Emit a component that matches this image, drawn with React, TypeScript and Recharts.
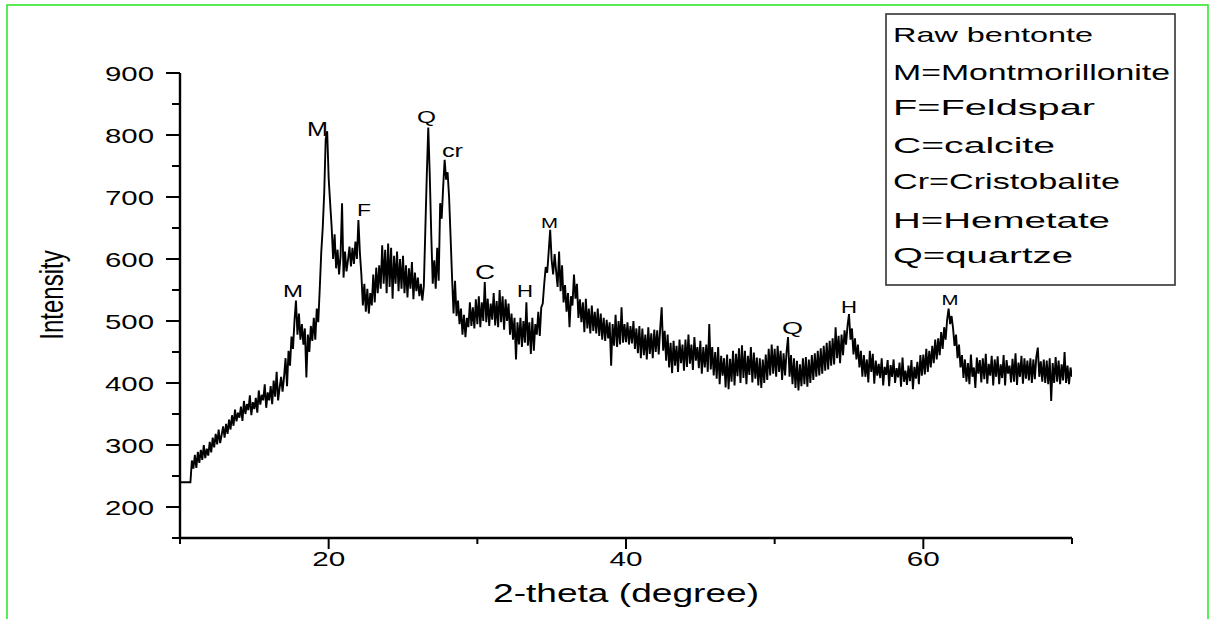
import React from 'react';
import { ComposedChart, Line, XAxis, YAxis, ReferenceDot } from 'recharts';

// XRD scan: 2-theta from 10 to 70 degrees, step 0.1
const twoThetaStart = 10;
const twoThetaStep = 0.1;
const intensity: number[] = [
  240,240,240,240,240,240,240,240,275,262,
  284,263,289,271,292,276,300,279,294,283,
  305,288,312,296,318,301,325,303,316,330,
  312,334,318,341,325,348,331,357,338,352,
  344,362,339,371,350,366,356,380,348,369,
  358,376,352,388,365,381,372,398,360,385,
  372,395,366,404,378,418,372,392,410,386,
  410,440,395,452,428,475,455,500,533,478,
  512,470,495,462,488,409,478,450,492,468,
  505,470,520,498,552,610,650,706,793,806,
  730,690,652,600,640,585,615,575,605,690,
  570,612,580,598,620,588,618,592,628,600,
  663,610,575,525,560,515,552,512,545,525,
  575,530,586,545,590,552,622,560,615,545,
  625,555,618,536,605,560,612,548,600,552,
  605,545,590,538,585,552,595,535,578,548,
  570,540,560,533,556,645,735,812,735,640,
  560,598,552,618,565,690,665,715,760,728,
  740,700,636,570,512,565,508,533,495,520,
  478,510,474,505,490,530,492,522,488,535,
  495,540,490,530,500,563,498,536,492,528,
  502,545,493,532,490,550,498,540,486,535,
  500,528,478,512,470,505,438,498,462,505,
  458,500,465,530,460,498,447,505,452,495,
  478,515,476,522,528,560,587,578,612,647,
  598,575,608,580,555,612,548,590,530,558,
  515,545,490,540,525,575,536,560,505,535,
  498,530,482,536,488,520,480,525,484,515,
  480,520,476,512,470,505,468,502,472,498,
  428,495,460,510,458,500,462,522,465,495,
  466,498,462,492,464,500,455,488,448,492,
  440,488,445,478,438,490,447,480,440,486,
  450,485,446,488,522,452,484,436,478,425,
  465,416,468,428,460,418,470,432,462,420,
  470,426,478,431,462,421,474,436,458,424,
  468,415,458,425,462,418,495,422,458,412,
  450,407,458,398,444,412,440,393,446,390,
  439,402,452,396,447,411,456,400,461,408,
  452,398,444,413,458,401,449,407,441,396,
  440,392,438,400,446,405,455,412,462,415,
  455,410,460,418,452,405,448,412,450,474,
  410,445,398,440,392,436,388,430,395,440,
  398,442,394,438,400,445,405,448,410,452,
  412,456,415,460,420,465,422,468,428,472,
  430,490,440,476,432,478,445,485,462,492,
  511,470,488,446,472,438,462,425,452,410,
  445,410,438,401,452,418,447,399,436,412,
  431,408,440,396,426,413,437,395,429,410,
  438,400,424,409,433,394,441,402,420,397,
  428,403,437,390,426,407,434,398,445,412,
  446,414,455,418,452,425,460,432,470,438,
  472,445,482,455,490,470,502,520,495,508,
  488,460,478,440,462,425,445,408,438,402,
  432,398,446,410,425,392,441,415,437,401,
  440,406,447,399,431,412,444,396,438,410,
  443,398,430,408,445,396,437,415,428,401,
  439,402,448,397,433,410,444,399,440,407,
  436,404,440,400,438,406,442,457,410,435,
  402,438,400,436,398,440,371,432,400,442,
  402,436,398,430,404,450,400,428,398,425,
  410,
];

const xTicks = [10, 20, 30, 40, 50, 60, 70];
const xTickLabels = [20, 40, 60];
const yTicks = [150, 200, 250, 300, 350, 400, 450, 500, 550, 600, 650, 700, 750, 800, 850, 900];
const yTickLabels = [200, 300, 400, 500, 600, 700, 800, 900];

// peak annotations (letter, 2-theta, intensity at text baseline)
const peakLetters = ['M', 'M', 'F', 'Q', 'cr', 'C', 'H', 'M', 'Q', 'H', 'M'];
const peakTheta = [17.6, 19.25, 22.38, 26.58, 28.33, 30.52, 33.21, 34.85, 51.2, 55.0, 61.79];
const peakLabelIntensity = [539, 799, 670, 820, 765, 568, 539, 650, 479, 513, 526];

const legendLines = [
  'Raw bentonte',
  'M=Montmorillonite',
  'F=Feldspar',
  'C=calcite',
  'Cr=Cristobalite',
  'H=Hemetate',
  'Q=quartze',
];
const xAxisTitle = '2-theta (degree)';
const yAxisTitle = 'Intensity';

// ---- styles (not data) ----
const FONT = '"Liberation Sans", Arial, sans-serif';
const peakFontSize = [16, 20, 17, 17, 19, 20, 17, 14, 17, 17, 14];
const peakTextWidth = [20, 21, 14, 19, 21, 20, 16, 17, 21, 16, 17];
const legendBaseline = [42, 80, 115, 152.5, 189, 227.5, 263];
const legendWidth = [200, 277, 202, 162, 227, 217, 180];
const legendFont = [21, 22, 22, 22, 22, 22, 22];

const chartRows = intensity.map((v, i) => ({
  x: Math.round((twoThetaStart + i * twoThetaStep) * 10) / 10,
  y: v,
}));

const XTick = (props: any) => {
  const { x, y, payload } = props;
  const major = xTickLabels.includes(payload.value);
  return (
    <g>
      <line x1={x} x2={x} y1={y} y2={y + (major ? 11 : 6)} stroke="#000" strokeWidth={2} />
      {major && (
        <text
          x={x}
          y={y + 28}
          textAnchor="middle"
          fontFamily={FONT}
          fontSize={21}
          fill="#000"
          textLength={33}
          lengthAdjust="spacingAndGlyphs"
        >
          {payload.value}
        </text>
      )}
    </g>
  );
};

const YTick = (props: any) => {
  const { x, y, payload } = props;
  const major = yTickLabels.includes(payload.value);
  return (
    <g>
      <line x1={x - (major ? 14 : 8)} x2={x} y1={y} y2={y} stroke="#000" strokeWidth={2} />
      {major && (
        <text
          x={x - 26}
          y={y + 7.5}
          textAnchor="end"
          fontFamily={FONT}
          fontSize={21}
          fill="#000"
          textLength={49}
          lengthAdjust="spacingAndGlyphs"
        >
          {payload.value}
        </text>
      )}
    </g>
  );
};

const makePeakShape = (i: number) => (p: any) => (
  <text
    x={p.cx}
    y={p.cy}
    textAnchor="middle"
    fontFamily={FONT}
    fontSize={peakFontSize[i]}
    fill="#000"
    textLength={peakTextWidth[i]}
    lengthAdjust="spacingAndGlyphs"
  >
    {peakLetters[i]}
  </text>
);

export default function App() {
  return (
    <div style={{ position: 'absolute', left: 0, top: 0, width: 1210, height: 619, background: '#fff' }}>
      <ComposedChart
        width={1210}
        height={619}
        data={chartRows}
        margin={{ top: 73, right: 138, bottom: 51, left: 120 }}
      >
        <XAxis
          type="number"
          dataKey="x"
          domain={[10, 70]}
          ticks={xTicks}
          interval={0}
          allowDataOverflow
          height={30}
          tickSize={0}
          tickMargin={0}
          tickLine={false}
          axisLine={{ stroke: '#000', strokeWidth: 2.4 }}
          tick={<XTick />}
        />
        <YAxis
          type="number"
          domain={[150, 900]}
          ticks={yTicks}
          interval={0}
          allowDataOverflow
          width={60}
          tickSize={0}
          tickMargin={0}
          tickLine={false}
          axisLine={{ stroke: '#000', strokeWidth: 2.4 }}
          tick={<YTick />}
        />
        <Line
          type="linear"
          dataKey="y"
          stroke="#000"
          strokeWidth={1.9}
          strokeLinejoin="miter"
          dot={false}
          activeDot={false}
          isAnimationActive={false}
        />
        {peakLetters.map((_, i) => (
          <ReferenceDot
            key={i}
            x={peakTheta[i]}
            y={peakLabelIntensity[i]}
            r={0}
            ifOverflow="visible"
            shape={makePeakShape(i)}
          />
        ))}
      </ComposedChart>
      <svg
        width={1210}
        height={619}
        style={{ position: 'absolute', left: 0, top: 0, pointerEvents: 'none' }}
      >
        <rect x={7} y={5} width={1201} height={700} fill="none" stroke="#22e622" strokeWidth={1.5} />
        <rect x={886} y={14} width={289} height={271} fill="#fff" stroke="#333" strokeWidth={1.6} />
        {legendLines.map((t, i) => (
          <text
            key={i}
            x={893}
            y={legendBaseline[i]}
            fontFamily={FONT}
            fontSize={legendFont[i]}
            fill="#000"
            textLength={legendWidth[i]}
            lengthAdjust="spacingAndGlyphs"
          >
            {t}
          </text>
        ))}
        <text
          x={626}
          y={602}
          textAnchor="middle"
          fontFamily={FONT}
          fontSize={26}
          fill="#000"
          textLength={266}
          lengthAdjust="spacingAndGlyphs"
        >
          {xAxisTitle}
        </text>
        <text
          transform="translate(63,295) scale(1.4,1) rotate(-90)"
          x={0}
          y={0}
          textAnchor="middle"
          fontFamily={FONT}
          fontSize={24}
          fill="#000"
        >
          {yAxisTitle}
        </text>
      </svg>
    </div>
  );
}
